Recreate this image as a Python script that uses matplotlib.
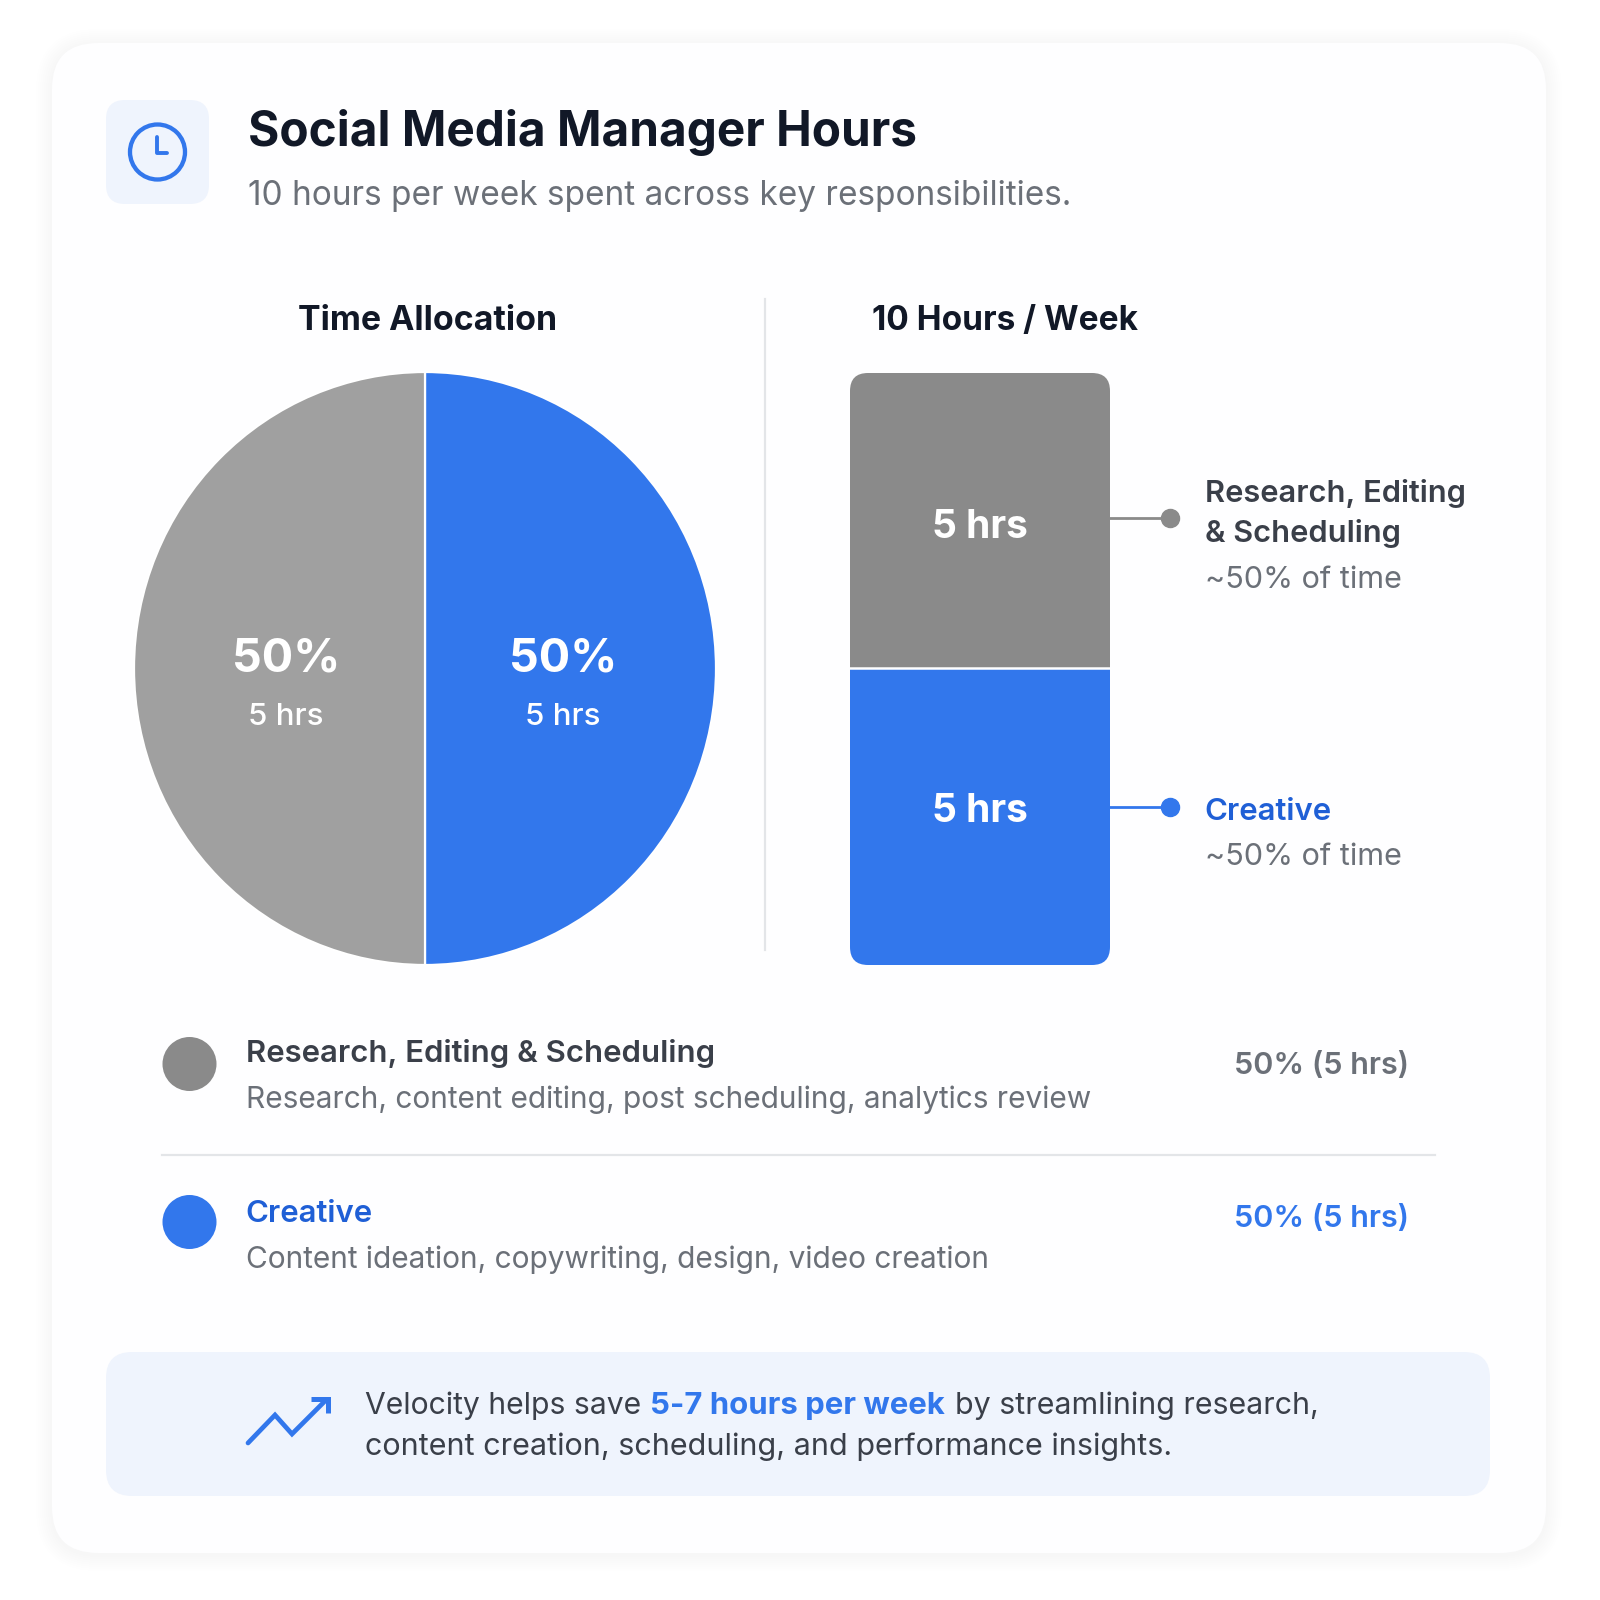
import matplotlib
matplotlib.use("Agg")
import matplotlib.pyplot as plt
from matplotlib.patches import FancyBboxPatch, Circle

plt.rcParams["font.family"] = ["Inter", "DejaVu Sans"]

BLUE = "#3277ec"
BLUE_DARK = "#1f5fd6"
GREY_PIE = "#a0a0a0"
GREY_BAR = "#8a8a8a"
INK = "#111827"
DARK = "#3a3f49"
MUTED = "#6b7078"
PALE = "#eff4fd"
RULE = "#e3e5e8"

# data
categories = ["Research, Editing & Scheduling", "Creative"]
hours = [5, 5]
shares = [50, 50]
details = ["Research, content editing, post scheduling, analytics review",
           "Content ideation, copywriting, design, video creation"]

fig = plt.figure(figsize=(16, 16), dpi=100, facecolor="white")
ax = fig.add_axes([0, 0, 1, 1])
ax.set_xlim(0, 1600)
ax.set_ylim(1600, 0)
ax.axis("off")


def rbox(x0, y0, x1, y1, r, **kw):
    p = FancyBboxPatch((x0 + r, y0 + r), x1 - x0 - 2 * r, y1 - y0 - 2 * r,
                       boxstyle=f"round,pad={r},rounding_size={r}", **kw)
    ax.add_patch(p)
    return p


def inset(x0, y0, x1, y1):
    return fig.add_axes([x0 / 1600, 1 - y1 / 1600, (x1 - x0) / 1600, (y1 - y0) / 1600])


# card with soft shadow
for grow in range(16, 0, -2):
    rbox(52 - grow, 43 - grow + 2, 1546 + grow, 1553 + grow + 2, 46 + grow,
         fc="black", ec="none", alpha=0.0045)
rbox(52, 43, 1546, 1553, 46, fc="#fefeff", ec="none")

# header
rbox(106, 100, 209, 204, 19, fc=PALE, ec="none")
ax.add_patch(Circle((157.5, 152), 27.5, fc="none", ec=BLUE, lw=3.1))
ax.plot([157, 157, 167], [137, 153, 153], color=BLUE, lw=2.8,
        solid_capstyle="round", solid_joinstyle="round")
ax.text(248, 133, "Social Media Manager Hours", fontsize=34.4, fontweight="bold",
        color=INK, va="center")
ax.text(248, 196, "10 hours per week spent across key responsibilities.",
        fontsize=24, color=MUTED, va="center")

# panel titles and divider
ax.text(428, 321, "Time Allocation", fontsize=24.4, fontweight="bold", color=INK,
        ha="center", va="center")
ax.text(1005.5, 321, "10 Hours / Week", fontsize=24, fontweight="bold", color=INK,
        ha="center", va="center")
ax.plot([765, 765], [299, 950], color=RULE, lw=1.6)

# pie
ax_pie = inset(134, 372, 716, 965)
ax_pie.pie(hours[::-1], colors=[BLUE, GREY_PIE], startangle=90, counterclock=False,
           radius=1, wedgeprops=dict(edgecolor="white", linewidth=1.6))
ax_pie.set_aspect("auto")
ax_pie.set_xlim(-1, 1)
ax_pie.set_ylim(-1, 1)
ax_pie.patch.set_alpha(0)

for cx, share, hr in zip([285, 562], shares, hours):
    fig.text((cx + 1) / 1600, 1 - 659 / 1600, f"{share}%", fontsize=33.5,
             fontweight="bold", color="white", ha="center", va="center")
    fig.text((cx + 1) / 1600, 1 - 717 / 1600, f"{hr} hrs", fontsize=22.5,
             fontweight="medium", color="white", ha="center", va="center")

# stacked bar
ax_bar = inset(850, 370, 1110, 965)
bottoms = [hours[1], 0]
clip = FancyBboxPatch((18, 18), 224, 556, boxstyle="round,pad=18,rounding_size=18",
                      fc="none", ec="none")
clip.set_transform(matplotlib.transforms.Affine2D().translate(850, 1600 - 965))
bars = ax_bar.bar([0, 0], hours, bottom=bottoms, width=1, color=[GREY_BAR, BLUE],
                  edgecolor="white", linewidth=0)
ax_bar.set_xlim(-0.5, 0.5)
ax_bar.set_ylim(0, sum(hours))
ax_bar.axis("off")
for b in bars:
    b.set_clip_path(clip)
ax_bar.axhline(hours[1], color="white", lw=1.8)
for hr, y in zip(hours, [528, 812]):
    fig.text(980 / 1600, 1 - y / 1600, f"{hr} hrs", fontsize=28, fontweight="bold",
             color="white", ha="center", va="center")

# callouts
ax.plot([1110, 1170], [518, 518], color=GREY_BAR, lw=2)
ax.plot([1170], [518], "o", color=GREY_BAR, ms=13)
ax.plot([1110, 1170], [807, 807], color=BLUE, lw=2)
ax.plot([1170], [807], "o", color=BLUE, ms=13)
ax.text(1205, 494, "Research, Editing", fontsize=22.2, fontweight="semibold", color=DARK, va="center")
ax.text(1205, 534, "& Scheduling", fontsize=22.2, fontweight="semibold", color=DARK, va="center")
ax.text(1205, 580, f"~{shares[0]}% of time", fontsize=22, color=MUTED, va="center")
ax.text(1204, 812, categories[1], fontsize=22.4, fontweight="semibold", color=BLUE_DARK, va="center")
ax.text(1205, 857, f"~{shares[1]}% of time", fontsize=22, color=MUTED, va="center")

# legend rows
rows_y = [(1054, 1100), (1214, 1260)]
dots = [1064, 1222]
values_y = [1066, 1219]
colors = [GREY_BAR, BLUE]
name_colors = [DARK, BLUE_DARK]
value_colors = [MUTED, BLUE]
for i in range(2):
    ax.add_patch(Circle((189.5, dots[i]), 27, fc=colors[i], ec="none"))
    ax.text(245.5, rows_y[i][0], categories[i], fontsize=22.4, fontweight="semibold",
            color=name_colors[i], va="center")
    ax.text(246, rows_y[i][1], details[i], fontsize=21.5, color=MUTED, va="center")
    ax.text(1409, values_y[i], f"{shares[i]}% ({hours[i]} hrs)", fontsize=22,
            fontweight="semibold", color=value_colors[i], ha="right", va="center")
ax.plot([162, 1435], [1155, 1155], color=RULE, lw=1.6)

# footer
rbox(106, 1352, 1490, 1496, 26, fc=PALE, ec="none")
ax.plot([248, 275, 292, 326], [1443, 1415, 1434, 1400], color=BLUE, lw=3.4,
        solid_capstyle="round", solid_joinstyle="miter")
ax.plot([311, 328, 328], [1399, 1399, 1413], color=BLUE, lw=3.6,
        solid_capstyle="butt", solid_joinstyle="miter")
ax.text(365, 1406, "Velocity helps save", fontsize=21.7, color=DARK, va="center")
ax.text(650, 1406, "5-7 hours per week", fontsize=22.4, fontweight="bold", color=BLUE, va="center")
ax.text(955, 1406, "by streamlining research,", fontsize=21.9, color=DARK, va="center")
ax.text(365, 1447, "content creation, scheduling, and performance insights.",
        fontsize=22, color=DARK, va="center")

fig.savefig("out.png", dpi=100, facecolor="white")
